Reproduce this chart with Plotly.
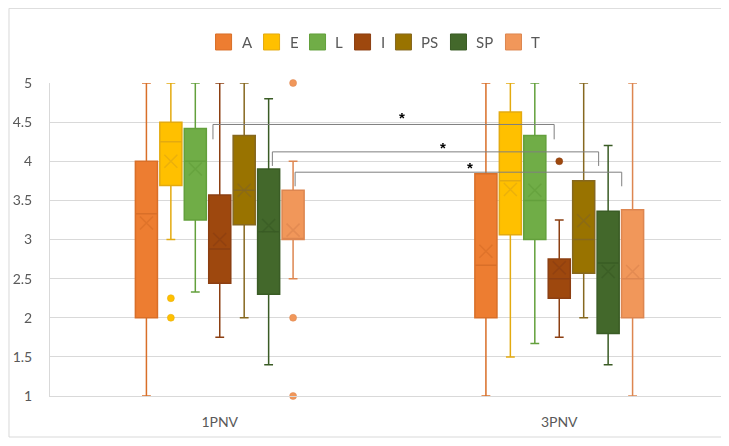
import plotly.graph_objects as go

categories = ["1PNV", "3PNV"]
series = ["A", "E", "L", "I", "PS", "SP", "T"]

fill_colors = ["#ED7D31", "#FFC000", "#70AD47", "#9E480E", "#997300", "#43682B", "#F1975A"]
line_colors = ["#D96F28", "#E3AA10", "#63A03C", "#8C3F12", "#86681F", "#3A5C25", "#DD8650"]

lower_fence = {"A": [1.0, 1.0], "E": [3.0, 1.5], "L": [2.33, 1.67], "I": [1.75, 1.75],
               "PS": [2.0, 2.0], "SP": [1.4, 1.4], "T": [2.5, 1.0]}
q1 = {"A": [2.0, 2.0], "E": [3.69, 3.06], "L": [3.25, 3.0], "I": [2.44, 2.25],
      "PS": [3.19, 2.57], "SP": [2.3, 1.8], "T": [3.0, 2.0]}
median = {"A": [3.33, 2.67], "E": [4.25, 3.75], "L": [4.0, 3.5], "I": [2.88, 2.5],
          "PS": [3.63, 3.0], "SP": [3.1, 2.7], "T": [3.0, 2.5]}
q3 = {"A": [4.0, 3.84], "E": [4.5, 4.63], "L": [4.42, 4.33], "I": [3.57, 2.75],
      "PS": [4.33, 3.75], "SP": [3.9, 3.36], "T": [3.63, 3.38]}
upper_fence = {"A": [5.0, 5.0], "E": [5.0, 5.0], "L": [5.0, 5.0], "I": [5.0, 3.25],
               "PS": [5.0, 5.0], "SP": [4.8, 4.2], "T": [4.0, 5.0]}
mean = {"A": [3.21, 2.85], "E": [4.0, 3.64], "L": [3.9, 3.63], "I": [3.0, 2.64],
        "PS": [3.63, 3.24], "SP": [3.18, 2.59], "T": [3.12, 2.59]}
outliers = {"A": [[], []], "E": [[2.25, 2.0], []], "L": [[], []], "I": [[], [4.0]],
            "PS": [[], []], "SP": [[], []], "T": [[5.0, 2.0, 1.0], []]}

# significance brackets: (x left, x right, y top, y bottom)
brackets = [(-0.02, 0.985, 4.47, 4.28), (0.155, 1.116, 4.12, 3.94), (0.222, 1.184, 3.86, 3.68)]
stars = [(0.537, 4.56), (0.6585, 4.18), (0.737, 3.92)]

# legend layout (paper fractions of the 679 x 313 px plot area)
legend_x = [0.2438, 0.3145, 0.3822, 0.4485, 0.5088, 0.5898, 0.6708]
legend_y0, legend_y1 = 1.1055, 1.1566
swatch_w = 0.0236
text_dx = 0.0353

step = 0.072
box_w = 0.065
fig = go.Figure()
for i, s in enumerate(series):
    xs = [c + (i - 3) * step for c in range(len(categories))]
    fig.add_trace(go.Box(
        name=s, x=xs, q1=q1[s], median=median[s], q3=q3[s],
        lowerfence=lower_fence[s], upperfence=upper_fence[s],
        fillcolor=fill_colors[i], line=dict(color=line_colors[i], width=1.5),
        width=box_w, whiskerwidth=0.4, boxpoints=False, showlegend=False,
    ))
    fig.add_trace(go.Scatter(
        x=xs, y=mean[s], mode="markers", showlegend=False,
        marker=dict(symbol="x-thin-open", size=13, color=line_colors[i],
                    line=dict(color=line_colors[i], width=1.5)),
        opacity=0.7, hoverinfo="skip", cliponaxis=False,
    ))
    ox, oy = [], []
    for c in range(len(categories)):
        for v in outliers[s][c]:
            ox.append(xs[c]); oy.append(v)
    if ox:
        fig.add_trace(go.Scatter(
            x=ox, y=oy, mode="markers", showlegend=False,
            marker=dict(symbol="circle", size=7, color=fill_colors[i],
                        line=dict(color=line_colors[i], width=0.5)),
            cliponaxis=False,
        ))
    # legend entry
    fig.add_shape(type="rect", xref="paper", yref="paper",
                  x0=legend_x[i], x1=legend_x[i] + swatch_w, y0=legend_y0, y1=legend_y1,
                  fillcolor=fill_colors[i], line=dict(color=line_colors[i], width=1))
    fig.add_annotation(xref="paper", yref="paper", x=legend_x[i] + text_dx,
                       y=(legend_y0 + legend_y1) / 2, text=s, showarrow=False,
                       xanchor="left", yanchor="middle",
                       font=dict(size=15, color="#595959", family="Lato"))

for (xl, xr, yt, yb) in brackets:
    fig.add_shape(type="path", xref="x", yref="y",
                  path=f"M {xl},{yb} L {xl},{yt} L {xr},{yt} L {xr},{yb}",
                  line=dict(color="#7F7F7F", width=1))
for (sx, sy) in stars:
    fig.add_annotation(x=sx, y=sy, text="<b>*</b>", showarrow=False,
                       font=dict(size=15, color="#000000", family="Liberation Sans"))

# chart border
fig.add_shape(type="rect", xref="paper", yref="paper",
              x0=-0.0604, x1=1.02, y0=-0.131, y1=1.2385,
              line=dict(color="#D9D9D9", width=1), layer="below")

fig.update_layout(
    width=721, height=430,
    margin=dict(l=42, r=0, t=75, b=42, autoexpand=False),
    paper_bgcolor="white", plot_bgcolor="white",
    font=dict(family="Lato", color="#595959", size=14),
    showlegend=False,
    xaxis=dict(range=[-0.5, 1.5], tickvals=list(range(len(categories))), ticktext=categories,
               showgrid=False, zeroline=False, showline=True, linecolor="#D9D9D9",
               ticks="", ticklabelstandoff=13, fixedrange=True),
    yaxis=dict(range=[1, 5], dtick=0.5, tick0=1, showgrid=True, gridcolor="#D9D9D9",
               zeroline=False, showline=True, linecolor="#D9D9D9", ticks="",
               ticklabelstandoff=14),
)

fig.write_html("out.html")
